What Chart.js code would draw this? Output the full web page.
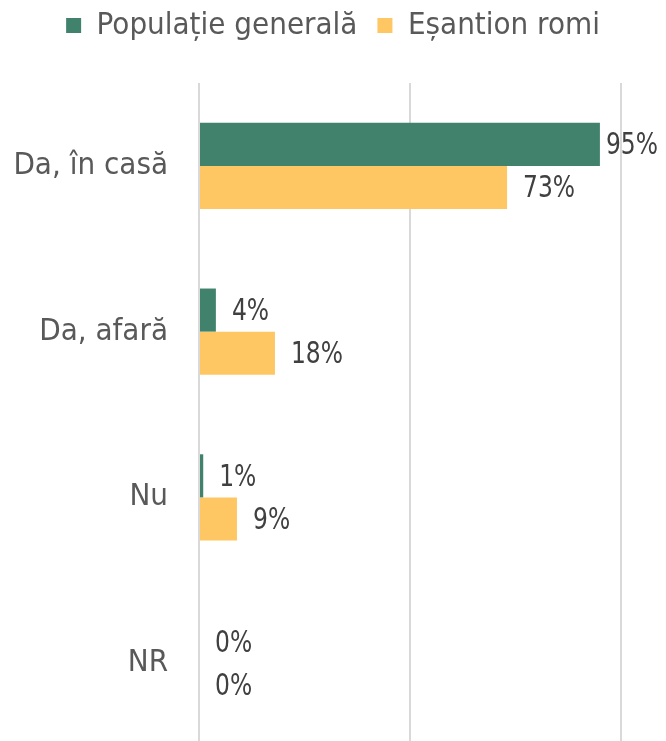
<!DOCTYPE html>
<html>
<head>
<meta charset="utf-8">
<script src="https://cdn.jsdelivr.net/npm/chart.js@4/dist/chart.umd.min.js"></script>
<style>
	html, body { margin: 0; padding: 0; background: #fff; overflow: hidden; }
	#wrap { position: relative; width: 666px; height: 748px; }
</style>
</head>
<body>
<div id="wrap"><canvas id="chart"></canvas></div>
<script>
// categories and series
const categories = ['Da, în casă', 'Da, afară', 'Nu', 'NR'];
const seriesNames = ['Populație generală', 'Eșantion romi'];
const generalPop = [95, 4, 1, 0];
const romaSample = [73, 18, 9, 0];
const xTicks = [0, 50, 100];

const FONT = '"DejaVu Sans Condensed", "DejaVu Sans", sans-serif';

// draws the "NN%" value right of each bar end (tall, narrow text like the original)
const valueLabels = {
	id: 'valueLabels',
	afterDatasetsDraw(chart) {
		const ctx = chart.ctx;
		const squeeze = 0.84;
		ctx.save();
		ctx.font = '31px ' + FONT;
		ctx.fillStyle = '#404040';
		ctx.textAlign = 'left';
		ctx.textBaseline = 'middle';
		chart.data.datasets.forEach((ds, i) => {
			const meta = chart.getDatasetMeta(i);
			meta.data.forEach((bar, j) => {
				const text = ds.data[j] + '%';
				const w = ctx.measureText(text).width * squeeze;
				// keep the label inside the canvas, as the original does for 95%
				const x = Math.min(bar.x + 16, chart.width - 8 - w);
				ctx.save();
				ctx.translate(x, bar.y + 2);
				ctx.scale(squeeze, 1);
				ctx.fillText(text, 0, 0);
				ctx.restore();
			});
		});
		ctx.restore();
	}
};

// leave some room between the legend and the plot
const legendGap = {
	id: 'legendGap',
	beforeInit(chart) {
		const fit = chart.legend.fit;
		chart.legend.fit = function () {
			fit.call(this);
			this.height += 32;
		};
	}
};

new Chart(document.getElementById('chart'), {
	type: 'bar',
	data: {
		labels: categories,
		datasets: [
			{ label: seriesNames[0], data: generalPop, backgroundColor: '#41826c' },
			{ label: seriesNames[1], data: romaSample, backgroundColor: '#fec763' }
		]
	},
	options: {
		indexAxis: 'y',
		responsive: true,
		maintainAspectRatio: false,
		animation: false,
		categoryPercentage: 0.52,
		barPercentage: 1,
		layout: { padding: { top: -10, right: 0, bottom: 2, left: 0 } },
		plugins: {
			legend: {
				position: 'top',
				labels: {
					boxWidth: 15,
					boxHeight: 15,
					padding: 20,
					color: '#595959',
					font: { family: FONT, size: 31 }
				}
			},
			tooltip: { enabled: false }
		},
		scales: {
			x: {
				min: 0,
				max: 110.66,
				afterBuildTicks: (scale) => { scale.ticks = xTicks.map((v) => ({ value: v })); },
				afterFit: (scale) => { scale.height = 0; },
				ticks: { display: false },
				grid: { color: '#d9d9d9', lineWidth: 2, drawTicks: false },
				border: { display: false }
			},
			y: {
				// fixed axis width; drop the label padding chart.js reserves above/below
				afterFit: (scale) => {
					scale.width = 199;
					scale.paddingTop = 0;
					scale.paddingBottom = 0;
				},
				ticks: {
					padding: 31,
					color: '#595959',
					font: { family: FONT, size: 31 }
				},
				grid: { display: false, drawTicks: false },
				border: { display: false }
			}
		}
	},
	plugins: [valueLabels, legendGap]
});
</script>
</body>
</html>
